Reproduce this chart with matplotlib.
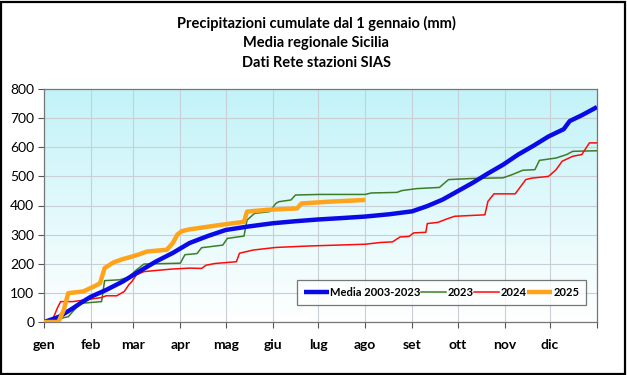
import numpy as np
import matplotlib
matplotlib.use("Agg")
import matplotlib.pyplot as plt
from matplotlib.patches import Rectangle
from matplotlib.colors import LinearSegmentedColormap

plt.rcParams['font.family'] = ['Lato', 'DejaVu Sans']

title_lines = ["Precipitazioni cumulate dal 1 gennaio (mm)", "Media regionale Sicilia", "Dati Rete stazioni SIAS"]
months = ["gen", "feb", "mar", "apr", "mag", "giu", "lug", "ago", "set", "ott", "nov", "dic"]
month_start = [0, 31, 59, 90, 120, 151, 181, 212, 243, 273, 304, 334, 365]

media_day = [0, 4, 10, 19, 25, 31, 41, 52, 61, 74, 85, 96, 108, 120, 135, 151,
             166, 181, 197, 212, 228, 243, 253, 263, 273, 283, 293, 303, 313, 323, 333, 343, 347, 355, 365]
media_val = [0, 7, 18, 47, 68, 87, 110, 139, 168, 208, 237, 271, 295, 316, 328, 339,
             346, 352, 357, 362, 370, 380, 398, 420, 449, 478, 510, 540, 575, 605, 637, 662, 690, 710, 738]

y2023_day = [0, 7, 13, 16, 19, 24, 38, 40, 50, 56, 61, 66, 90, 93, 101, 104, 118, 121, 132, 134, 139, 149, 153, 155,
             163, 166, 182, 212, 216, 233, 236, 246, 261, 267, 284, 303, 309, 316, 324, 327, 338, 345, 349, 365]
y2023_val = [0, 0, 15, 18, 36, 64, 70, 142, 145, 154, 179, 199, 202, 231, 235, 255, 264, 287, 295, 350, 373, 379, 407, 413,
             419, 436, 438, 438, 443, 445, 451, 458, 462, 489, 493, 495, 506, 521, 523, 555, 563, 575, 586, 588]

y2024_day = [0, 5, 9, 11, 19, 26, 38, 41, 48, 53, 56, 58, 61, 66, 72, 85, 96, 104, 107, 113, 127, 129, 138, 153, 175,
             212, 222, 230, 235, 241, 244, 252, 253, 260, 266, 271, 291, 293, 297, 311, 318, 322, 333, 338, 342, 349, 355, 360, 365]
y2024_val = [0, 0, 50, 70, 70, 75, 84, 90, 90, 105, 128, 139, 162, 173, 176, 182, 185, 184, 195, 201, 207, 236, 247, 256, 261,
             267, 273, 275, 292, 294, 306, 308, 338, 342, 354, 363, 368, 414, 440, 440, 489, 494, 500, 523, 552, 569, 575, 615, 615]

y2025_day = [0, 9.5, 13, 16, 26, 33, 37, 40, 46, 52, 57, 62, 68, 81, 85, 88, 91, 96, 116, 132, 134, 147,
             167, 170, 188, 212]
y2025_val = [0, 0, 41, 99, 105, 122, 133, 185, 205, 216, 223, 231, 242, 248, 271, 300, 312, 318, 333, 344, 379, 385,
             390, 407, 413, 419]

W, H = 627, 375
fig = plt.figure(figsize=(W / 100, H / 100), dpi=100)
fig.patch.set_facecolor('white')
fig.add_artist(Rectangle((0.002, 0.003), 0.995, 0.993, transform=fig.transFigure,
                         fill=False, edgecolor='black', linewidth=1.6))

ax = fig.add_axes([44 / W, 1 - 322 / H, (597 - 44) / W, (322 - 89) / H])

grad = np.linspace(0, 1, 256).reshape(-1, 1)
cmap = LinearSegmentedColormap.from_list('bg', ['#ffffff', '#c2f3f8'])
ax.imshow(grad, aspect='auto', cmap=cmap, extent=[0, 1, 0, 1], transform=ax.transAxes,
          origin='lower', zorder=0)

ax.set_xlim(0, 365)
ax.set_ylim(0, 800)
ax.set_xticks(month_start)
ax.set_xticklabels(months + [""], fontweight='bold', fontsize=10)
ax.set_yticks(np.arange(0, 801, 100))
ax.tick_params(axis='y', labelsize=10, length=4, color='#555555', pad=3)
ax.tick_params(axis='x', length=4, color='#555555', pad=8)
ax.grid(True, color='#c8cfd6', linewidth=0.8, zorder=1)
for s in ax.spines.values():
    s.set_color('#777777')
    s.set_linewidth(0.9)

ax.plot(media_day, media_val, color='#0a0ae6', lw=3.2, label='Media 2003-2023', zorder=5, solid_capstyle='butt')
ax.plot(y2023_day, y2023_val, color='#3d7d28', lw=1.1, label='2023', zorder=4)
ax.plot(y2024_day, y2024_val, color='#ff0a0a', lw=1.1, label='2024', zorder=4)
ax.plot(y2025_day, y2025_val, color='#ffa31a', lw=3.2, label='2025', zorder=6, solid_capstyle='butt')

x0 = (297 - 44) / 553
w = (586 - 297) / 553
y0 = (322 - 308) / 233
h = (308 - 277) / 233
leg = ax.legend(loc='center', bbox_to_anchor=(x0, y0, w, h), mode='expand', ncol=4, frameon=True,
                fancybox=False, edgecolor='#555555', handlelength=2.3, handletextpad=0.1,
                columnspacing=0.6, borderpad=0.6, borderaxespad=0.0,
                prop={'weight': 'bold', 'size': 8})
leg.get_frame().set_linewidth(0.9)

ys = [23, 43, 63]
for t, y in zip(title_lines, ys):
    fig.text(316 / W, 1 - y / H, t, ha='center', va='center', fontsize=10.5, fontweight='bold')

fig.savefig('out.png', dpi=100)
